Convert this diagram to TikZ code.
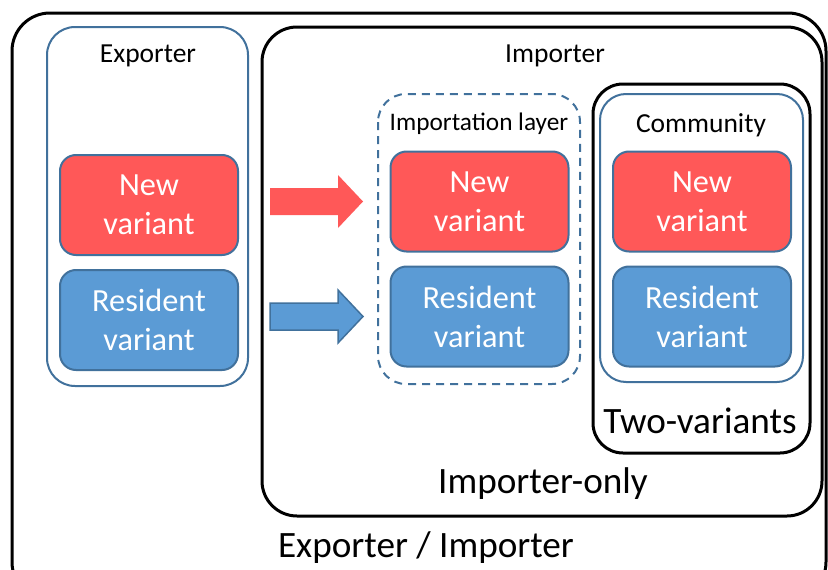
\documentclass[tikz,border=0pt]{standalone}
\usepackage{fontspec}
\setmainfont{Carlito}
\definecolor{varred}{RGB}{255,88,88}
\definecolor{varblue}{RGB}{91,155,213}
\definecolor{edgeblue}{RGB}{65,113,156}
\tikzset{
  frame/.style={draw=black, line width=3pt, rounded corners=38pt, inner sep=0pt},
  bluebox/.style={draw=edgeblue, line width=2pt, rounded corners=28pt, inner sep=0pt, fill=white},
  layerbox/.style={draw=edgeblue, line width=2pt, dash pattern=on 8pt off 6pt, rounded corners=28pt, inner sep=0pt},
  variant/.style={draw=edgeblue, line width=2pt, rounded corners=16pt, inner sep=0pt,
    minimum width=178pt, minimum height=100pt, text=white, align=center,
    font=\fontsize{32.3}{39}\selectfont},
  newv/.style={variant, fill=varred},
  resv/.style={variant, fill=varblue},
  small/.style={font=\fontsize{27.5}{30}\selectfont, anchor=base, inner sep=0pt},
  big/.style={font=\fontsize{37.2}{40}\selectfont, anchor=base, inner sep=0pt},
}
\begin{document}
\begin{tikzpicture}[x=1pt,y=-1pt]
\useasboundingbox (0,0) rectangle (828,570);
\clip (0,0) rectangle (828,570);

% outer frame and nested frames
\draw[frame] (12,13) rectangle (826,600);
\node[big] (lblall) at (426,557) {Exporter / Importer};

\draw[frame, rounded corners=35pt] (262,27) rectangle (822,516);
\node[big] (lblimp) at (543,493) {Importer-only};
\node[small] (imptitle) at (555,62) {Importer};

% exporter column
\draw[bluebox] (47,27) rectangle (248,386);
\node[small] (exptitle) at (148,62) {Exporter};
\node[newv] (expnew) at (149,205) {New\\variant};
\node[resv] (expres) at (149,320) {Resident\\variant};

% importation layer
\draw[layerbox] (378,94) rectangle (580,384);
\node[small, font=\fontsize{25.3}{30}\selectfont] (layertitle) at (479,130) {Importation layer};
\node[newv] (laynew) at (479.5,201.5) {New\\variant};
\node[resv] (layres) at (479.5,316.5) {Resident\\variant};

% two-variants community
\draw[frame, rounded corners=30pt] (593,84) rectangle (810,453);
\node[big] (twotitle) at (700,433) {Two-variants};
\draw[bluebox, rounded corners=26pt] (600,94) rectangle (803,382);
\node[small] (comtitle) at (701,132) {Community};
\node[newv] (comnew) at (702,201.5) {New\\variant};
\node[resv] (comres) at (702,316.5) {Resident\\variant};

% block arrows
\fill[varred] (270,188) -- (338,188) -- (338,175) -- (363,201.5) -- (338,228)
  -- (338,215) -- (270,215) -- cycle;
\filldraw[fill=varblue, draw=edgeblue, line width=1.5pt, line join=miter]
  (270,303) -- (338,303) -- (338,290) -- (363,316.5) -- (338,343)
  -- (338,330) -- (270,330) -- cycle;
\end{tikzpicture}
\end{document}
